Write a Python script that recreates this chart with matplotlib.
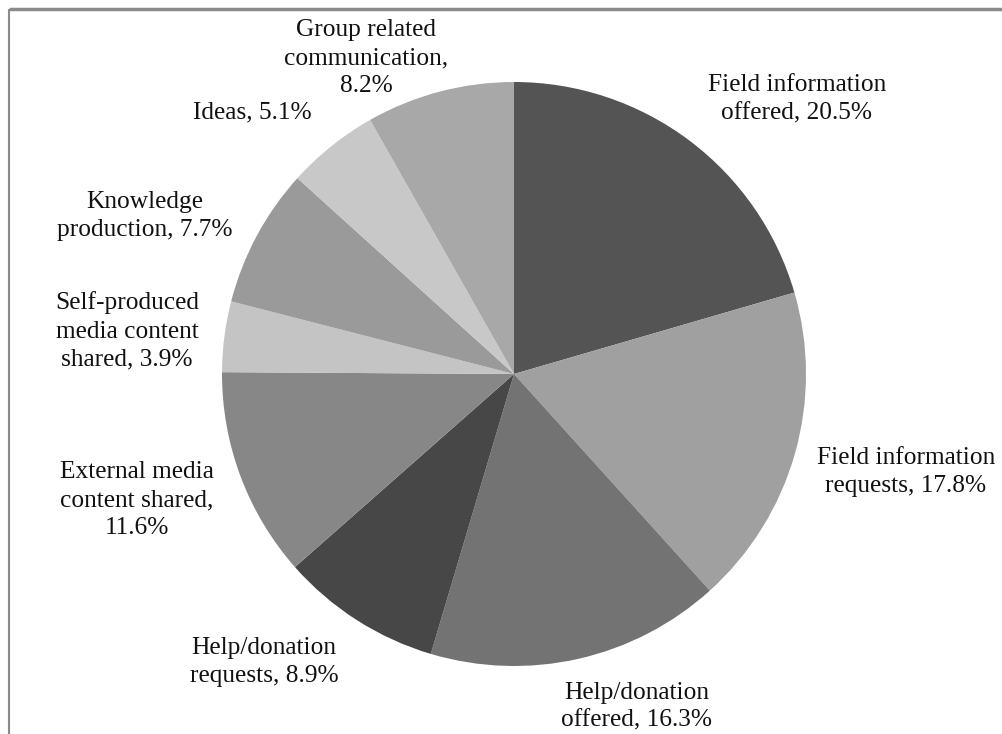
import matplotlib.pyplot as plt

# Share of message types (percent)
categories = ["Field information\noffered", "Field information\nrequests",
              "Help/donation\noffered", "Help/donation\nrequests",
              "External media\ncontent shared,\n", "Self-produced\nmedia content\nshared,",
              "Knowledge\nproduction,", "Ideas,", "Group related\ncommunication,\n"]
shares = [20.5, 17.8, 16.3, 8.9, 11.6, 3.9, 7.7, 5.1, 8.2]
colors = ["#545454", "#a0a0a0", "#737373", "#474747", "#878787",
          "#c4c4c4", "#9a9a9a", "#c8c8c8", "#a8a8a8"]

# Label centres, as offsets from the pie centre in units of the radius
label_pos = [(0.969, 0.942), (1.342, -0.336), (0.421, -1.14), (-0.856, -0.986),
             (-1.291, -0.432), (-1.325, 0.147), (-1.264, 0.541), (-0.897, 0.897),
             (-0.507, 1.082)]

W, H = 1003, 734
cx, cy, r = 514, 360, 292

fig = plt.figure(figsize=(W / 100, H / 100), dpi=100)
ax = fig.add_axes([0, 0, 1, 1])

ax.pie(shares, colors=colors, startangle=90, counterclock=False,
       center=(cx, cy), radius=r, frame=True,
       wedgeprops=dict(linewidth=0))
ax.set_xlim(0, W)
ax.set_ylim(0, H)
ax.set_aspect("equal")
ax.axis("off")

for name, val, (dx, dy) in zip(categories, shares, label_pos):
    if name.endswith("\n"):
        txt = name + "%.1f%%" % val
    elif name.endswith(","):
        txt = name + " %.1f%%" % val
    else:
        txt = name + ", %.1f%%" % val
    ax.text(cx + dx * r, cy + dy * r, txt, ha="center", va="center",
            fontsize=18.3, family="Liberation Serif", color="#111111",
            linespacing=1.36)

# outer frame lines
ax.plot([9, W], [H - 9, H - 9], color="#8a8a8a", lw=2.5, solid_capstyle="butt")
ax.plot([9, 9], [0, H - 9], color="#8a8a8a", lw=1.5, solid_capstyle="butt")

fig.savefig("out.png", dpi=100)
